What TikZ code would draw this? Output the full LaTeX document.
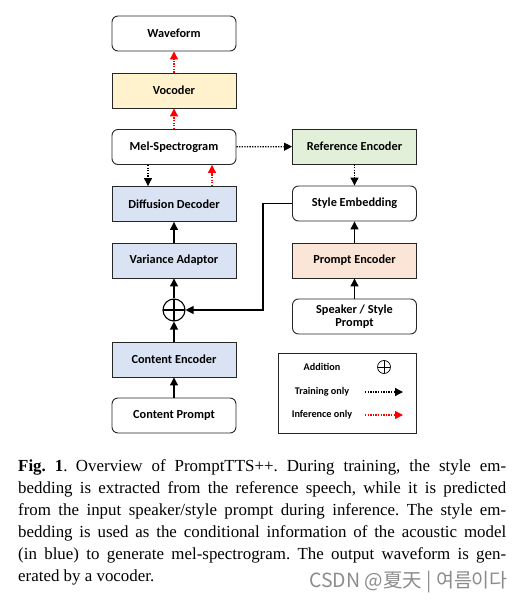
\documentclass[tikz,border=0pt]{standalone}
\usepackage{fontspec}
\setmainfont{Liberation Serif}
\newfontfamily\boxfont{Carlito}
\newfontfamily\wmfont{Noto Sans CJK SC}
\usetikzlibrary{arrows.meta,calc}
\definecolor{cyel}{HTML}{FFF2CC}
\definecolor{cblue}{HTML}{DAE3F3}
\definecolor{cgreen}{HTML}{E2F0D9}
\definecolor{cpeach}{HTML}{FBE5D6}
\begin{document}
\begin{tikzpicture}[x=1pt,y=-1pt,
  box/.style={draw=black!85, line width=0.9pt, minimum width=124pt, minimum height=35pt,
    font=\boxfont\bfseries\fontsize{12.3}{13}\selectfont, align=center, inner sep=1pt},
  rbox/.style={box, rounded corners=6pt, fill=white},
  tip/.style={-{Triangle[length=8pt,width=8pt]}},
  solidarrow/.style={tip, line width=1.2pt, black},
  train/.style={tip, line width=1.2pt, black, dash pattern=on 1.3pt off 1.3pt},
  infer/.style={tip, line width=1.2pt, red, dash pattern=on 1.3pt off 1.3pt},
  plus/.style={circle, draw, inner sep=0pt, minimum size=#1,
    path picture={\draw[line width=\pgflinewidth] (path picture bounding box.north) -- (path picture bounding box.south)
      (path picture bounding box.west) -- (path picture bounding box.east);}},
  legtext/.style={font=\boxfont\bfseries\fontsize{10.2}{11}\selectfont, anchor=center}
]
\useasboundingbox (0,0) rectangle (530,601);
% left column
\node[rbox] (wave) at (174,33.5) {Waveform};
\node[box, fill=cyel] (voc) at (174,90.5) {Vocoder};
\node[rbox] (mel) at (174,147) {Mel-Spectrogram};
\node[box, fill=cblue] (diff) at (174,204) {Diffusion Decoder};
\node[box, fill=cblue] (var) at (174,260.5) {Variance Adaptor};
\node[plus=22pt, line width=1.1pt] (add) at (174,310) {};
\node[box, fill=cblue] (cenc) at (174,359.5) {Content Encoder};
\node[rbox] (cprompt) at (174,415.5) {Content Prompt};
% right column
\node[box, fill=cgreen] (ref) at (354.5,146.5) {Reference Encoder};
\node[rbox] (style) at (354.5,203.5) {Style Embedding};
\node[box, fill=cpeach] (penc) at (354.5,260.5) {Prompt Encoder};
\node[rbox, font=\boxfont\bfseries\fontsize{12.3}{13.5}\selectfont] (sprompt) at (354.5,316.5) {Speaker / Style\\Prompt};
% connectors
\draw[infer] (voc) -- (wave);
\draw[infer] (mel) -- (voc);
\draw[train] ([xshift=-26pt]mel.south) -- ([xshift=-26pt]diff.north);
\draw[infer] ([xshift=38pt]diff.north) -- ([xshift=38pt]mel.south);
\draw[solidarrow] (var) -- (diff);
\draw[solidarrow] (add) -- (var);
\draw[solidarrow] (cenc) -- (add);
\draw[solidarrow] (cprompt) -- (cenc);
\draw[train] (mel) -- (ref);
\draw[train] (ref) -- (style);
\draw[solidarrow] (penc) -- (style);
\draw[solidarrow] (sprompt) -- (penc);
\draw[solidarrow] (style.west) -- ++(-29,0) |- (add.east);
% legend
\node[draw=black!85, line width=0.9pt, minimum width=138pt, minimum height=80pt, inner sep=0pt] (legend) at (347,393) {};
\node[legtext] (laddl) at (322,367) {Addition};
\node[plus=13pt, line width=0.7pt] (ladd) at (384,367) {};
\node[legtext] (ltrain) at (322,392) {Training only};
\coordinate (ltrainA) at (365,392);
\coordinate (ltrainB) at (403,392);
\draw[train] (ltrainA) -- (ltrainB);
\node[legtext] (linfer) at (322,415) {Inference only};
\coordinate (linferA) at (365,415);
\coordinate (linferB) at (403,415);
\draw[infer] (linferA) -- (linferB);
% caption
\node[anchor=north west, text width=488pt, align=justify, inner sep=0pt,
  font=\fontsize{16.9}{22}\selectfont] (cap) at (18,459)
  {\frenchspacing\textbf{Fig.~1}.\hspace{0.5em}Overview of PromptTTS++. During training, the style em-\linebreak
  bedding is extracted from the reference speech, while it is predicted\linebreak
  from the input speaker/style prompt during inference. The style em-\linebreak
  bedding is used as the conditional information of the acoustic model\linebreak
  (in blue) to generate mel-spectrogram. The output waveform is gen-\linebreak
  erated by a vocoder.};
\node[anchor=west, text=black!45, font=\wmfont\fontsize{19.5}{21}\selectfont, inner sep=0pt] (wm) at (309,582) {CSDN @夏天 | 여름이다};
\end{tikzpicture}
\end{document}
